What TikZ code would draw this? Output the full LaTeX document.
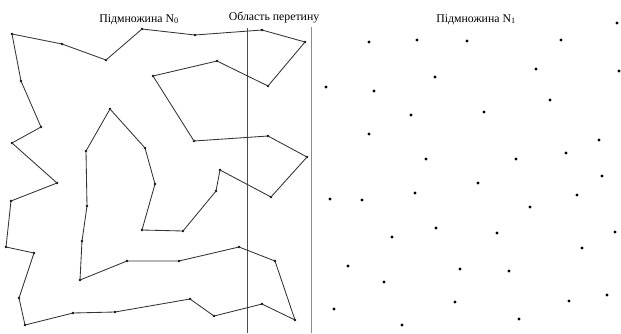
\documentclass[tikz,border=0pt]{standalone}
\usepackage{fontspec}
\setmainfont{Liberation Serif}
\begin{document}
\begin{tikzpicture}[x=1pt,y=-1pt,
  dot/.style={circle,fill=black,inner sep=0pt,minimum size=3.2pt},
  vdot/.style={circle,fill=black,inner sep=0pt,minimum size=2.6pt},
  edge/.style={draw=black!80,line width=0.85pt},
  lbl/.style={font=\fontsize{11.8}{13}\selectfont,anchor=base,inner sep=0pt}]
\useasboundingbox (0,0) rectangle (621,333);
% labels
\node[lbl] (t0) at (139,22) {Підмножина N\textsubscript{0}};
\node[lbl] (t1) at (274,20) {Область перетину};
\node[lbl] (t2) at (476,22) {Підмножина N\textsubscript{1}};
% boundary lines
\coordinate (la) at (247,28); \coordinate (lb) at (247,333);
\coordinate (ra) at (311,27); \coordinate (rb) at (311,333);
\draw[black!70,line width=1pt] (la) -- (lb);
\draw[black!45,line width=1pt] (ra) -- (rb);
% polygon vertices
\foreach \n/\x/\y in {
 v1/12/34, v2/62/44, v3/106/60, v4/142/29, v5/195/35, v6/262/30, v7/305/42,
 v8/268/86, v9/217/61, v10/153/76, v11/194/141, v12/268/136, v13/307/157,
 v14/271/197, v15/220/170, v16/216/191, v17/183/231, v18/142/230, v19/155/184,
 v20/145/148, v21/110/109, v22/86/151, v23/87/206, v24/82/241, v25/80/280,
 v26/127/261, v27/179/261, v28/239/247, v29/275/261, v30/295/320, v31/262/304,
 v32/214/316, v33/190/299, v34/115/312, v35/73/313, v36/25/325, v37/19/298,
 v38/34/253, v39/6/247, v40/11/201, v41/57/183, v42/12/143, v43/41/127, v44/21/81}
 {\node[vdot] (\n) at (\x,\y) {};}
\draw[edge] (v1.center) -- (v2.center) -- (v3.center) -- (v4.center) -- (v5.center)
 -- (v6.center) -- (v7.center) -- (v8.center) -- (v9.center) -- (v10.center)
 -- (v11.center) -- (v12.center) -- (v13.center) -- (v14.center) -- (v15.center)
 -- (v16.center) -- (v17.center) -- (v18.center) -- (v19.center) -- (v20.center)
 -- (v21.center) -- (v22.center) -- (v23.center) -- (v24.center) -- (v25.center)
 -- (v26.center) -- (v27.center) -- (v28.center) -- (v29.center) -- (v30.center)
 -- (v31.center) -- (v32.center) -- (v33.center) -- (v34.center) -- (v35.center)
 -- (v36.center) -- (v37.center) -- (v38.center) -- (v39.center) -- (v40.center)
 -- (v41.center) -- (v42.center) -- (v43.center) -- (v44.center) -- cycle;
% free points of N1
\foreach \n/\x/\y in {
 p1/369/42, p2/417/40, p3/467/41, p4/326/87, p5/374/91, p6/435/77, p7/411/115,
 p8/369/134, p9/426/159, p10/561/40, p11/617/23, p12/536/69, p13/619/71,
 p14/550/100, p15/484/112, p16/599/140, p17/566/153, p18/516/159,
 p19/330/199, p20/362/200, p21/415/193, p22/436/228, p23/392/237, p24/348/266,
 p25/460/269, p26/384/282, p27/334/309, p28/455/302, p29/402/325,
 p30/478/183, p31/602/176, p32/577/195, p33/530/207, p34/497/233, p35/615/232,
 p36/582/248, p37/509/271, p38/607/295, p39/569/301, p40/519/319}
 {\node[dot] (\n) at (\x,\y) {};}
\end{tikzpicture}
\end{document}
